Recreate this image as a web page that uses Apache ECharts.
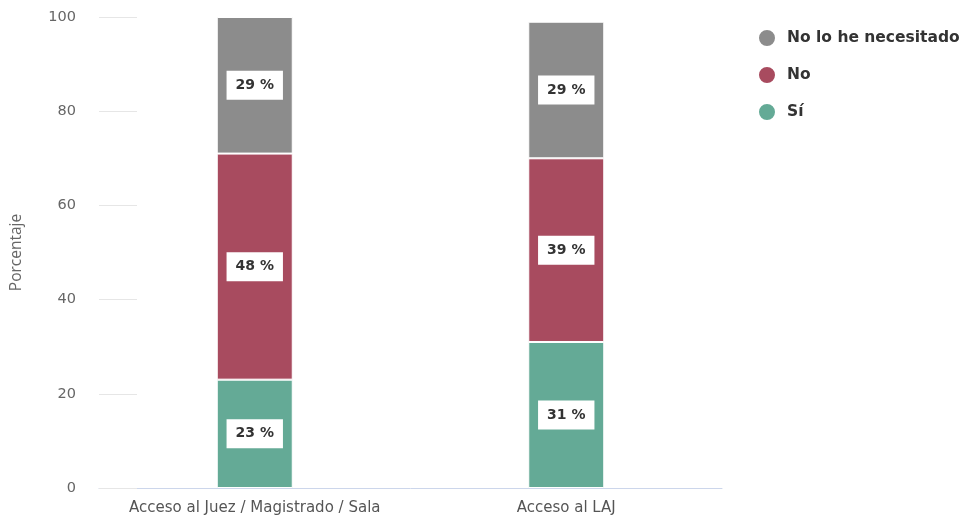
<!DOCTYPE html>
<html>
<head>
<meta charset="utf-8">
<script src="https://cdn.jsdelivr.net/npm/echarts@6/dist/echarts.min.js"></script>
<style>
  html, body { margin: 0; padding: 0; background: #fff; }
  #chart { width: 962px; height: 520px; }
</style>
</head>
<body>
<div id="chart"></div>
<script>
// Categories and stacked percentages
var categories = ['Acceso al Juez / Magistrado / Sala', 'Acceso al LAJ'];
var siValues = [23, 31];
var noValues = [48, 39];
var noNecesitadoValues = [29, 29];
var yTicks = [0, 20, 40, 60, 80, 100];

var colors = { si: '#64aa96', no: '#a84b5f', nn: '#8c8c8c' };
var wideFont = 'DejaVu Sans';
var nameFont = 'Open Sans';

function seriesOf(name, data, color) {
  return {
    name: name,
    type: 'bar',
    stack: 'total',
    barWidth: 76,
    data: data,
    itemStyle: { color: color, borderColor: '#ffffff', borderWidth: 1 },
    label: {
      show: true,
      position: 'inside',
      formatter: function (p) { return p.value + ' %'; },
      backgroundColor: '#ffffff',
      color: '#333333',
      fontFamily: wideFont,
      fontWeight: 'bold',
      fontSize: 14,
      padding: [8, 9, 7, 9]
    },
    emphasis: { disabled: true }
  };
}

var chart = echarts.init(document.getElementById('chart'), null, { renderer: 'canvas' });
chart.setOption({
  animation: false,
  grid: { left: 99, right: 240, top: 17, bottom: 32, containLabel: false },
  legend: {
    orient: 'vertical',
    left: 752,
    top: 23,
    itemGap: 17,
    icon: 'circle',
    itemWidth: 18,
    itemHeight: 18,
    textStyle: { fontFamily: wideFont, fontWeight: 'bold', fontSize: 15.5, color: '#333333', padding: [0, 0, 0, 6] },
    data: ['No lo he necesitado', 'No', 'Sí']
  },
  xAxis: {
    type: 'category',
    data: categories,
    axisLine: { lineStyle: { color: '#ccd6eb' } },
    axisTick: { show: false },
    axisLabel: { interval: 0, color: '#555555', fontFamily: wideFont, fontSize: 15, margin: 13 }
  },
  yAxis: {
    type: 'value',
    min: yTicks[0],
    max: yTicks[yTicks.length - 1],
    interval: 20,
    name: 'Porcentaje',
    nameLocation: 'middle',
    nameGap: 74,
    nameTextStyle: { color: '#666666', fontFamily: nameFont, fontSize: 15.5 },
    axisLine: { show: false },
    axisTick: { show: true, inside: true, length: 38, lineStyle: { color: '#e6e6e6' } },
    splitLine: { show: false },
    axisLabel: { color: '#666666', fontFamily: wideFont, fontSize: 14.5, margin: 23 }
  },
  series: [
    seriesOf('Sí', siValues, colors.si),
    seriesOf('No', noValues, colors.no),
    seriesOf('No lo he necesitado', noNecesitadoValues, colors.nn)
  ]
});
</script>
</body>
</html>
